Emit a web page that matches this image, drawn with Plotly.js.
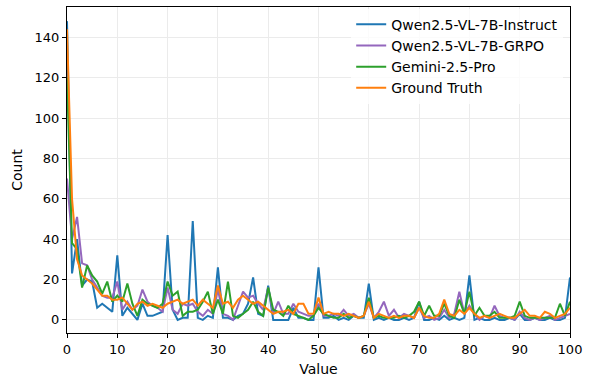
<!DOCTYPE html>
<html>
<head>
<meta charset="utf-8">
<script src="https://cdn.plot.ly/plotly-3.0.1.min.js"></script>
<style>html,body{margin:0;padding:0;background:#fff;}#chart{width:590px;height:379px;}</style>
</head>
<body>
<div id="chart"></div>
<script>
const values = Array.from({length: 101}, (_, i) => i);

const instruct = [148,23,40,17,20,19,6,8,6,4,32,2,6,3,0,8,2,2,3,4,
  42,5,0,1,1,49,1,0,2,1,26,1,1,0,2,3,8,21,3,2,
  17,0,0,0,0,6,1,1,0,0,26,1,1,2,0,1,0,2,1,1,
  18,0,1,0,1,0,0,1,0,1,9,0,0,1,0,2,0,1,0,1,
  22,0,1,0,0,1,0,0,1,0,3,0,0,1,0,0,1,0,0,1,21];

const grpo = [70,40,51,28,27,20,16,12,11,11,19,5,9,5,7,15,9,7,6,4,
  16,5,3,8,7,8,4,2,5,3,15,3,2,0,7,14,11,12,8,5,
  16,3,9,3,3,8,4,3,2,2,8,2,2,3,2,5,2,3,1,2,
  8,1,4,9,2,5,1,3,2,1,6,1,2,0,1,5,1,3,14,3,
  7,3,0,2,1,7,2,1,1,0,4,1,0,1,0,1,2,0,1,2,3];

const gemini = [120,38,35,16,27,22,19,13,19,9,12,9,18,8,2,10,8,7,6,8,
  19,12,14,2,4,4,5,9,14,3,10,3,19,2,1,3,5,9,4,2,
  16,5,4,2,7,3,2,1,0,2,6,3,2,1,1,3,1,2,1,2,
  11,1,2,1,1,1,2,1,2,4,9,2,7,2,2,8,2,1,10,3,
  14,2,6,2,2,4,1,1,1,2,9,2,1,1,1,1,1,1,8,2,9];

const truth = [144,60,30,22,20,18,15,12,12,10,10,11,8,5,8,9,7,8,7,6,
  8,9,10,8,9,10,7,10,8,6,17,8,9,6,10,12,10,8,9,7,
  5,3,4,4,5,3,8,8,3,3,11,3,4,3,3,2,3,2,1,2,
  9,1,3,2,1,2,1,2,2,1,6,2,1,1,3,10,3,2,5,3,
  6,3,1,2,1,2,3,2,1,1,3,5,2,2,1,4,3,1,2,3,6];

const names = ["Qwen2.5-VL-7B-Instruct", "Qwen2.5-VL-7B-GRPO", "Gemini-2.5-Pro", "Ground Truth"];
const colors = ["#1f77b4", "#9467bd", "#2ca02c", "#ff7f0e"];
const series = [instruct, grpo, gemini, truth];

const traces = series.map((s, k) => ({
  x: values, y: s, type: "scatter", mode: "lines", name: names[k],
  line: {color: colors[k], width: 2}
}));

const font = {family: "DejaVu Sans, sans-serif", color: "#000"};
const layout = {
  width: 590, height: 379,
  margin: {l: 67, r: 20, t: 7, b: 46},
  paper_bgcolor: "#fff", plot_bgcolor: "#fff",
  font: Object.assign({size: 13}, font),
  showlegend: true,
  legend: {x: 0.565, y: 0.995, xanchor: "left", yanchor: "top",
    bgcolor: "rgba(255,255,255,0.8)", borderwidth: 0,
    font: Object.assign({size: 14}, font), itemwidth: 30},
  xaxis: {range: [0, 100], tickmode: "array", tickvals: [0,10,20,30,40,50,60,70,80,90,100],
    showgrid: true, gridcolor: "#ebebeb", gridwidth: 1, zeroline: false,
    showline: true, linecolor: "#000", linewidth: 1, mirror: true,
    ticks: "outside", ticklen: 4, tickcolor: "#000",
    tickfont: Object.assign({size: 13}, font),
    title: {text: "Value", font: Object.assign({size: 14}, font), standoff: 8}},
  yaxis: {range: [-6.5, 155], tickmode: "array", tickvals: [0,20,40,60,80,100,120,140],
    showgrid: true, gridcolor: "#ebebeb", gridwidth: 1, zeroline: false,
    showline: true, linecolor: "#000", linewidth: 1, mirror: true,
    ticks: "outside", ticklen: 4, tickcolor: "#000",
    tickfont: Object.assign({size: 13}, font),
    title: {text: "Count", font: Object.assign({size: 14}, font), standoff: 8}}
};

Plotly.newPlot("chart", traces, layout, {displayModeBar: false, staticPlot: true});
</script>
</body>
</html>
